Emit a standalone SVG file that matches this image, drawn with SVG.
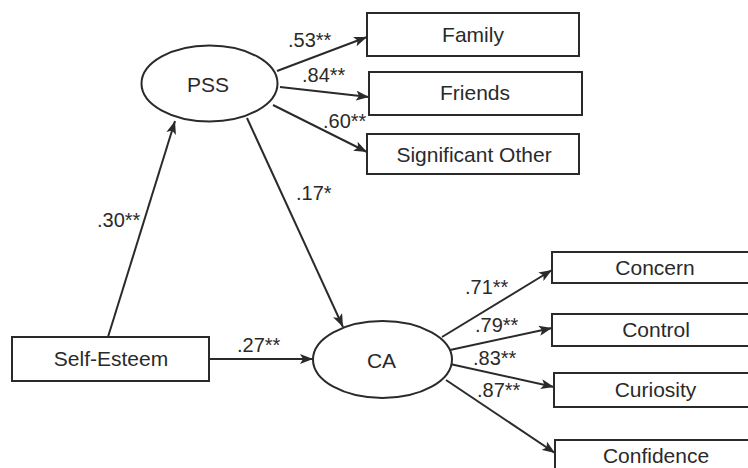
<svg xmlns="http://www.w3.org/2000/svg" width="748" height="468" viewBox="0 0 748 468">
<style>
.box{fill:#fff;stroke:#2a2a2a;stroke-width:2}
.ell{fill:#fff;stroke:#2a2a2a;stroke-width:2}
.t{font-family:"Liberation Sans",Arial,sans-serif;font-size:21px;fill:#2a2a2a;text-anchor:middle}
.c{font-family:"Liberation Sans",Arial,sans-serif;font-size:20px;fill:#2a2a2a}
.e{stroke:#2a2a2a;stroke-width:2;fill:none;marker-end:url(#ah)}
</style>
<defs>
<marker id="ah" markerUnits="userSpaceOnUse" markerWidth="14" markerHeight="10" refX="13" refY="5" orient="auto">
<path d="M0,0 L13,5 L0,10 L3,5 Z" fill="#2a2a2a"/>
</marker>
</defs>
<rect width="748" height="468" fill="#fff"/>
<g id="connectors">
<line class="e" x1="108" y1="337" x2="175" y2="121"/>
<line class="e" x1="247" y1="118" x2="343" y2="327"/>
<line class="e" x1="209" y1="359" x2="313" y2="359"/>
<line class="e" x1="277" y1="71" x2="367" y2="37"/>
<line class="e" x1="280" y1="87" x2="369" y2="97"/>
<line class="e" x1="273" y1="105" x2="367" y2="152"/>
<line class="e" x1="442" y1="337" x2="552" y2="270"/>
<line class="e" x1="450" y1="350" x2="552" y2="328"/>
<line class="e" x1="450" y1="364" x2="554" y2="387"/>
<line class="e" x1="446" y1="380" x2="555" y2="453"/>
<text class="c" x="288" y="47">.53**</text>
<text class="c" x="302" y="82">.84**</text>
<text class="c" x="323" y="128">.60**</text>
<text class="c" x="296" y="200">.17*</text>
<text class="c" x="97" y="227">.30**</text>
<text class="c" x="237" y="352">.27**</text>
<text class="c" x="465" y="294">.71**</text>
<text class="c" x="475" y="332">.79**</text>
<text class="c" x="473" y="365">.83**</text>
<text class="c" x="477" y="397">.87**</text>
</g>
<g id="PSS"><ellipse class="ell" cx="209.5" cy="83.5" rx="68" ry="38"/><text class="t" x="208" y="92">PSS</text></g>
<g id="CA"><ellipse class="ell" cx="382.5" cy="359.5" rx="69.5" ry="38.5"/><text class="t" x="381.5" y="368">CA</text></g>
<g id="SelfEsteem"><rect class="box" x="12" y="337" width="197" height="44"/><text class="t" x="111" y="366">Self-Esteem</text></g>
<g id="Family"><rect class="box" x="367" y="13" width="212" height="43"/><text class="t" x="473" y="42">Family</text></g>
<g id="Friends"><rect class="box" x="369" y="72" width="213" height="43"/><text class="t" x="475" y="100">Friends</text></g>
<g id="SignificantOther"><rect class="box" x="367" y="134" width="212" height="40"/><text class="t" x="474" y="162">Significant Other</text></g>
<g id="Concern"><rect class="box" x="552" y="252" width="210" height="31"/><text class="t" x="655" y="275">Concern</text></g>
<g id="Control"><rect class="box" x="552" y="314" width="210" height="32"/><text class="t" x="656" y="337">Control</text></g>
<g id="Curiosity"><rect class="box" x="554" y="373" width="210" height="34"/><text class="t" x="655.5" y="397">Curiosity</text></g>
<g id="Confidence"><rect class="box" x="555" y="440" width="210" height="40"/><text class="t" x="656" y="463">Confidence</text></g>
</svg>
